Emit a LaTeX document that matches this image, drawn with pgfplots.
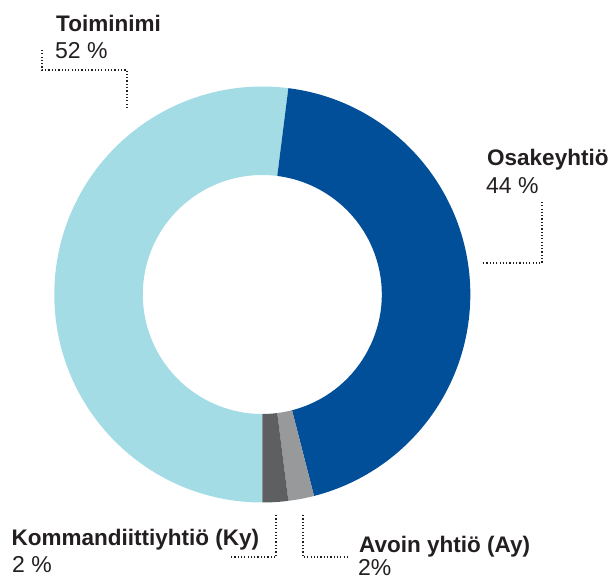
\documentclass[border=0pt]{standalone}
\usepackage{fontspec}
\setmainfont{Liberation Sans}
\usepackage{pgfplots}
\usepackage{pgfplotstable}
\pgfplotsset{compat=1.18}

\definecolor{toimi}{HTML}{A3DCE5}
\definecolor{osake}{HTML}{004F98}
\definecolor{avoin}{HTML}{97999B}
\definecolor{komm}{HTML}{5E5F61}
\definecolor{txt}{HTML}{231F20}

% shares in percent, clockwise from the bottom
\pgfplotstableread{
share col
52 toimi
44 osake
2  avoin
2  komm
}\shares

\newcommand{\lab}{\fontsize{22.5}{26}\selectfont\bfseries}
\newcommand{\pct}{\fontsize{23}{26}\selectfont}
\tikzset{lead/.style={draw=txt,line width=1.3pt,dash pattern=on 1.2pt off 2.1pt}}

\begin{document}
\begin{tikzpicture}
% wedges: angles from the shares, built before the axis
\def\cx{262.3}\def\cy{284.5}\def\R{208}\def\r{119.5}
\def\cum{0}\def\wedges{}
\pgfplotsforeachungrouped \i in {0,...,3}{%
  \pgfplotstablegetelem{\i}{share}\of\shares \let\sh\pgfplotsretval
  \pgfplotstablegetelem{\i}{col}\of\shares \let\co\pgfplotsretval
  \pgfmathsetmacro\aone{270-3.6*\cum}%
  \pgfmathsetmacro\cum{\cum+\sh}%
  \pgfmathsetmacro\atwo{270-3.6*\cum}%
  \pgfmathsetmacro\xo{\cx+\R*cos(\aone)}%
  \pgfmathsetmacro\yo{\cy+\R*sin(\aone)}%
  \pgfmathsetmacro\xi{\cx+\r*cos(\atwo)}%
  \pgfmathsetmacro\yi{\cy+\r*sin(\atwo)}%
  \xdef\wedges{\unexpanded\expandafter{\wedges}%
    \noexpand\fill[\co] (axis cs:\xo,\yo) arc[start angle=\aone, end angle=\atwo, radius=\R pt]
    -- (axis cs:\xi,\yi) arc[start angle=\atwo, end angle=\aone, radius=\r pt] -- cycle;}%
}
\begin{axis}[x=1pt,y=1pt,xmin=0,xmax=613,ymin=0,ymax=579,
  hide axis,clip=false]
\wedges
% leaders
\draw[lead] (axis cs:42,529) -- (axis cs:42,509) -- (axis cs:127,509) -- (axis cs:127,470);
\draw[lead] (axis cs:542,377) -- (axis cs:542,316) -- (axis cs:481,316);
\draw[lead] (axis cs:276,64) -- (axis cs:276,22) -- (axis cs:230,22);
\draw[lead] (axis cs:303,64) -- (axis cs:303,22) -- (axis cs:348,22);
% labels
\begin{scope}[every node/.style={anchor=base west,inner sep=0pt,text=txt}]
\node at (axis cs:56,547) {\lab Toiminimi};
\node at (axis cs:55,520) {\pct 52 \%};
\node at (axis cs:487,413) {\lab Osakeyhtiö};
\node at (axis cs:486,385) {\pct 44 \%};
\node at (axis cs:11.5,34) {\lab Kommandiittiyhtiö (Ky)};
\node at (axis cs:12,7) {\pct 2 \%};
\node at (axis cs:359,27) {\lab Avoin yhtiö (Ay)};
\node at (axis cs:358,4) {\pct 2\%};
\end{scope}
\coordinate (bl) at (axis cs:0,0);
\coordinate (tr) at (axis cs:613,579);
\end{axis}
\pgfresetboundingbox
\path[use as bounding box] (bl) rectangle (tr);
\end{tikzpicture}
\end{document}
